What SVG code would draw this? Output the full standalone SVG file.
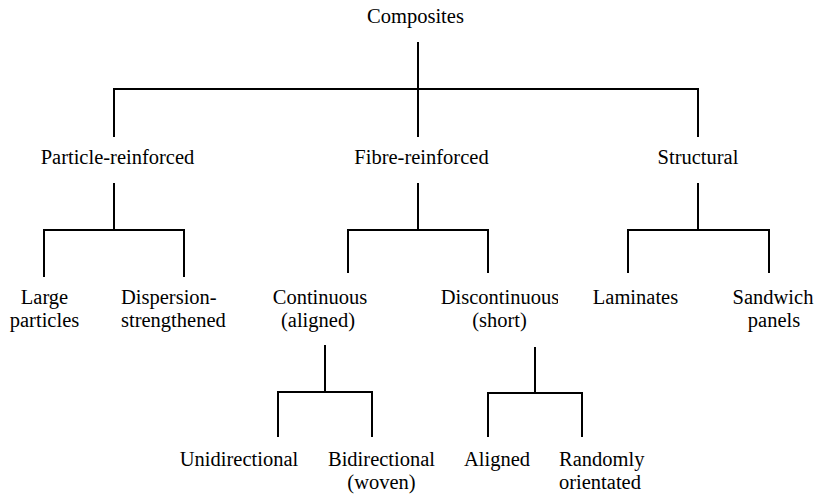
<svg xmlns="http://www.w3.org/2000/svg" width="817" height="495" viewBox="0 0 817 495">
<style>
text{font-size:20.5px;fill:#000}
.c{text-anchor:middle}
.l{text-anchor:start}
#connectors path{fill:none;stroke:#000;stroke-width:2}
</style>
<defs>
<clipPath id="clipDisc"><rect x="400" y="270" width="158" height="70"/></clipPath>
</defs>
<rect width="817" height="495" fill="#fff"/>
<g id="connectors">
<path d="M418,42V137M114,137V89H698V137"/>
<path d="M114,183V230M44,277V230H184V277"/>
<path d="M418,183V230M348,273V230H488V273"/>
<path d="M698,183V230M628,273V230H769V273"/>
<path d="M325,345V392M278,437V392H372V437"/>
<path d="M535,347V393M488,437V393H582V437"/>
</g>
<g id="composites"><text font-family="Liberation Serif" class="c" x="415.5" y="23">Composites</text></g>
<g id="particle"><text font-family="Liberation Serif" class="c" x="117.5" y="164">Particle-reinforced</text></g>
<g id="fibre"><text font-family="Liberation Serif" class="c" x="421.5" y="164">Fibre-reinforced</text></g>
<g id="structural"><text font-family="Liberation Serif" class="c" x="698" y="164">Structural</text></g>
<g id="large"><text font-family="Liberation Serif" class="c" x="44.5" y="304">Large</text><text font-family="Liberation Serif" class="c" x="44.5" y="327">particles</text></g>
<g id="dispersion"><text font-family="Liberation Serif" class="l" x="121" y="304">Dispersion-</text><text font-family="Liberation Serif" class="l" x="121" y="327">strengthened</text></g>
<g id="continuous"><text font-family="Liberation Serif" class="c" x="320" y="304">Continuous</text><text font-family="Liberation Serif" class="c" x="318" y="327">(aligned)</text></g>
<g id="discontinuous"><text font-family="Liberation Serif" class="c" x="500" y="304" clip-path="url(#clipDisc)">Discontinuous</text><text font-family="Liberation Serif" class="c" x="499.5" y="327">(short)</text></g>
<g id="laminates"><text font-family="Liberation Serif" class="c" x="635.5" y="304">Laminates</text></g>
<g id="sandwich"><text font-family="Liberation Serif" class="c" x="773" y="304">Sandwich</text><text font-family="Liberation Serif" class="c" x="774" y="327">panels</text></g>
<g id="unidirectional"><text font-family="Liberation Serif" class="c" x="239" y="466">Unidirectional</text></g>
<g id="bidirectional"><text font-family="Liberation Serif" class="c" x="381.5" y="466">Bidirectional</text><text font-family="Liberation Serif" class="c" x="381.5" y="489">(woven)</text></g>
<g id="aligned"><text font-family="Liberation Serif" class="c" x="497" y="466">Aligned</text></g>
<g id="randomly"><text font-family="Liberation Serif" class="l" x="559" y="466">Randomly</text><text font-family="Liberation Serif" class="l" x="559" y="489">orientated</text></g>
</svg>
